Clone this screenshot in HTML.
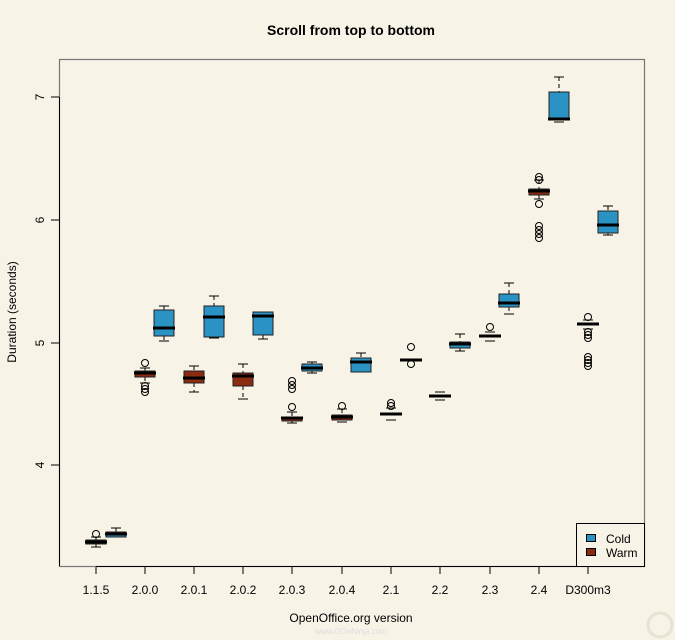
<!DOCTYPE html>
<html><head><meta charset="utf-8"><style>
html,body{margin:0;padding:0;background:#f7f3e6;}
svg{display:block;font-family:"Liberation Sans",sans-serif;}
</style></head><body>
<svg width="675" height="640" viewBox="0 0 675 640" xmlns="http://www.w3.org/2000/svg">
<rect width="675" height="640" fill="#f7f3e6"/>
<text x="351" y="35" text-anchor="middle" font-size="14" font-weight="bold">Scroll from top to bottom</text>
<rect x="59.5" y="59.5" width="585" height="507" fill="none" stroke="#777" stroke-width="1.2"/>
<line x1="59.5" y1="97" x2="59.5" y2="566" stroke="#000"/>
<line x1="96" y1="566.5" x2="588" y2="566.5" stroke="#000"/>
<g stroke="#000">
<line x1="51" y1="97" x2="59" y2="97"/><line x1="51" y1="220" x2="59" y2="220"/><line x1="51" y1="343" x2="59" y2="343"/><line x1="51" y1="465" x2="59" y2="465"/>
<line x1="96" y1="567" x2="96" y2="574"/><line x1="145" y1="567" x2="145" y2="574"/><line x1="194" y1="567" x2="194" y2="574"/><line x1="243" y1="567" x2="243" y2="574"/><line x1="292" y1="567" x2="292" y2="574"/><line x1="342" y1="567" x2="342" y2="574"/><line x1="391" y1="567" x2="391" y2="574"/><line x1="440" y1="567" x2="440" y2="574"/><line x1="490" y1="567" x2="490" y2="574"/><line x1="539" y1="567" x2="539" y2="574"/><line x1="588" y1="567" x2="588" y2="574"/>
</g>
<g font-size="12" text-anchor="middle">
<text transform="translate(44,97) rotate(-90)">7</text>
<text transform="translate(44,220) rotate(-90)">6</text>
<text transform="translate(44,343) rotate(-90)">5</text>
<text transform="translate(44,465) rotate(-90)">4</text>
<text transform="translate(16,312) rotate(-90)">Duration (seconds)</text>
<text x="96" y="594">1.1.5</text><text x="145" y="594">2.0.0</text><text x="194" y="594">2.0.1</text><text x="243" y="594">2.0.2</text><text x="292" y="594">2.0.3</text><text x="342" y="594">2.0.4</text><text x="391" y="594">2.1</text><text x="440" y="594">2.2</text><text x="490" y="594">2.3</text><text x="539" y="594">2.4</text><text x="588" y="594">D300m3</text>
<text x="351" y="622">OpenOffice.org version</text>
</g>
<text x="351" y="634" text-anchor="middle" font-size="8" fill="#ddd">www.OOoNinja.com</text>
<circle cx="660" cy="625" r="12" fill="none" stroke="#e8e2d2" stroke-width="3"/>

<g stroke="#000" stroke-width="1" fill="none">
<!-- whiskers: dashed -->
<g stroke-dasharray="4,3">
<line x1="96" y1="537" x2="96" y2="540"/><line x1="96" y1="544" x2="96" y2="547"/>
<line x1="116" y1="528" x2="116" y2="532"/><line x1="116" y1="537" x2="116" y2="537"/>
<line x1="145" y1="368" x2="145" y2="371"/><line x1="145" y1="377" x2="145" y2="383"/>
<line x1="164" y1="306" x2="164" y2="310"/><line x1="164" y1="336" x2="164" y2="341"/>
<line x1="194" y1="366" x2="194" y2="371"/><line x1="194" y1="383" x2="194" y2="392"/>
<line x1="214" y1="296" x2="214" y2="306"/><line x1="214" y1="337" x2="214" y2="338"/>
<line x1="243" y1="364" x2="243" y2="373"/><line x1="243" y1="386" x2="243" y2="399"/>
<line x1="263" y1="335" x2="263" y2="339"/>
<line x1="292" y1="412" x2="292" y2="417"/><line x1="292" y1="421" x2="292" y2="423"/>
<line x1="312" y1="362" x2="312" y2="364"/><line x1="312" y1="371" x2="312" y2="373"/>
<line x1="342" y1="409" x2="342" y2="415"/>
<line x1="361" y1="353" x2="361" y2="358"/>
<line x1="460" y1="334" x2="460" y2="342"/><line x1="460" y1="348" x2="460" y2="351"/>
<line x1="509" y1="283" x2="509" y2="294"/><line x1="509" y1="307" x2="509" y2="314"/>
<line x1="539" y1="180" x2="539" y2="189"/><line x1="539" y1="195" x2="539" y2="199"/>
<line x1="559" y1="77" x2="559" y2="92"/>
<line x1="608" y1="206" x2="608" y2="211"/><line x1="608" y1="233" x2="608" y2="235"/>
</g>
<!-- caps -->
<path d="M91 537h10M91 547h10M111 528h10M111 537h10M140 368h10M140 383h10M159 306h10M159 341h10M189 366h10M189 392h10M209 296h10M209 338h10M238 364h10M238 399h10M258 312h10M258 339h10M287 412h10M287 423h10M307 362h10M307 373h10M337 409h10M337 422h10M356 353h10M356 372h10M386 408h10M386 420h10M406 360h10M435 392h10M435 400h10M455 334h10M455 351h10M485 332h10M485 341h10M504 283h10M504 314h10M534 180h10M534 199h10M554 77h10M554 122h10M583 320h10M583 329h10M603 206h10M603 235h10"/>
</g>
<!-- boxes -->
<g stroke="#222" stroke-width="1">
<rect x="86" y="540" width="20" height="4" fill="#8b2b12"/>
<rect x="106" y="532" width="20" height="5" fill="#2b93c4"/>
<rect x="135" y="371" width="20" height="6" fill="#8b2b12"/>
<rect x="154" y="310" width="20" height="26" fill="#2b93c4"/>
<rect x="184" y="371" width="20" height="12" fill="#8b2b12"/>
<rect x="204" y="306" width="20" height="31" fill="#2b93c4"/>
<rect x="233" y="373" width="20" height="13" fill="#8b2b12"/>
<rect x="253" y="312" width="20" height="23" fill="#2b93c4"/>
<rect x="282" y="417" width="20" height="4" fill="#8b2b12"/>
<rect x="302" y="364" width="20" height="7" fill="#2b93c4"/>
<rect x="332" y="415" width="20" height="5" fill="#8b2b12"/>
<rect x="351" y="358" width="20" height="14" fill="#2b93c4"/>
<rect x="381" y="413" width="20" height="2" fill="#8b2b12"/>
<rect x="401" y="359" width="20" height="2" fill="#2b93c4"/>
<rect x="430" y="395" width="20" height="2" fill="#8b2b12"/>
<rect x="450" y="342" width="20" height="6" fill="#2b93c4"/>
<rect x="480" y="335" width="20" height="2" fill="#8b2b12"/>
<rect x="499" y="294" width="20" height="13" fill="#2b93c4"/>
<rect x="529" y="189" width="20" height="6" fill="#8b2b12"/>
<rect x="549" y="92" width="20" height="28" fill="#2b93c4"/>
<rect x="578" y="323" width="20" height="2" fill="#8b2b12"/>
<rect x="598" y="211" width="20" height="22" fill="#2b93c4"/>
</g>
<!-- medians -->
<g stroke="#000" stroke-width="3">
<path d="M85 542h22M105 534h22M134 373h22M153 328h22M183 378h22M203 317h22M232 376h22M252 316h22M281 418h22M301 368h22M331 417h22M350 362h22M380 414h22M400 360h22M429 396h22M449 344h22M479 336h22M498 303h22M528 191h22M548 119h22M577 324h22M597 225h22"/>
</g>
<!-- outliers -->
<g stroke="#000" fill="none" stroke-width="1">
<circle cx="96" cy="534" r="3.5"/>
<circle cx="145" cy="363" r="3.5"/><circle cx="145" cy="386" r="3.5"/><circle cx="145" cy="389" r="3.5"/><circle cx="145" cy="392" r="3.5"/>
<circle cx="292" cy="407" r="3.5"/><circle cx="292" cy="381" r="3.5"/><circle cx="292" cy="385" r="3.5"/><circle cx="292" cy="389" r="3.5"/>
<circle cx="342" cy="406" r="3.5"/>
<circle cx="391" cy="403" r="3.5"/><circle cx="391" cy="406" r="3.5"/>
<circle cx="411" cy="347" r="3.5"/><circle cx="411" cy="364" r="3.5"/>
<circle cx="490" cy="327" r="3.5"/>
<circle cx="539" cy="177" r="3.5"/><circle cx="539" cy="180" r="3.5"/><circle cx="539" cy="204" r="3.5"/>
<circle cx="539" cy="226" r="3.5"/><circle cx="539" cy="230" r="3.5"/><circle cx="539" cy="234" r="3.5"/><circle cx="539" cy="238" r="3.5"/>
<circle cx="588" cy="317" r="3.5"/><circle cx="588" cy="332" r="3.5"/><circle cx="588" cy="335" r="3.5"/><circle cx="588" cy="338" r="3.5"/>
<circle cx="588" cy="357" r="3.5"/><circle cx="588" cy="360" r="3.5"/><circle cx="588" cy="363" r="3.5"/><circle cx="588" cy="366" r="3.5"/>
</g>
<!-- legend -->
<rect x="576.5" y="523.5" width="68" height="43" fill="#f7f3e6" stroke="#000"/>
<rect x="586.5" y="534.5" width="9" height="7" fill="#2b93c4" stroke="#000"/>
<rect x="586.5" y="548.5" width="9" height="7" fill="#8b2b12" stroke="#000"/>
<text x="606" y="543" font-size="12">Cold</text>
<text x="606" y="557" font-size="12">Warm</text>
</svg>
</body></html>
